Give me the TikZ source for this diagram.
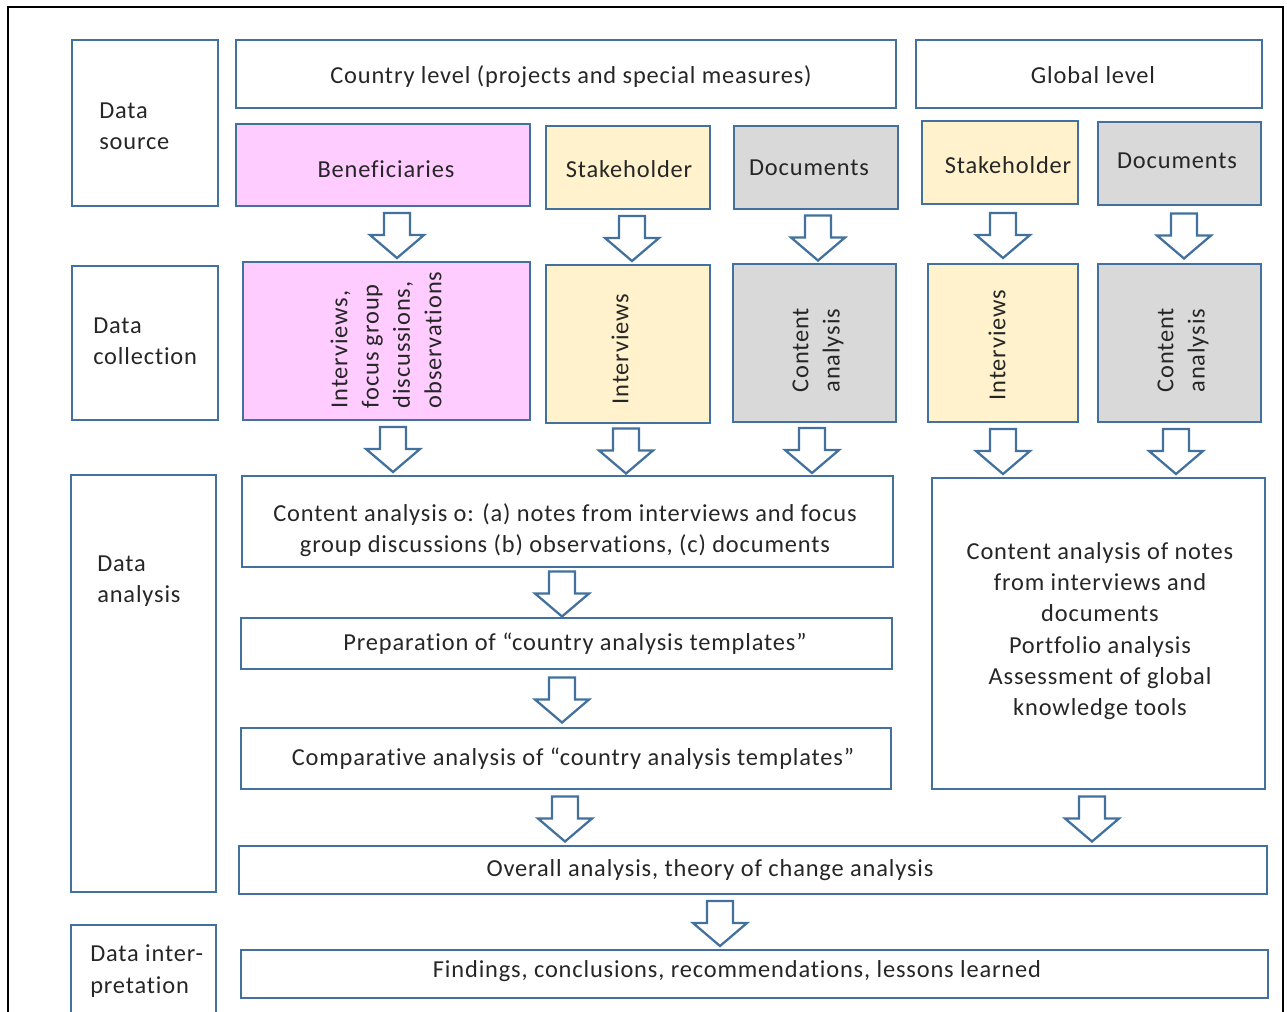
\documentclass[tikz,border=0pt]{standalone}
\usepackage{fontspec}
\setmainfont{Carlito}[LetterSpace=3.5, Ligatures=NoCommon]
\usetikzlibrary{calc}
\definecolor{bord}{HTML}{41719C}
\definecolor{pinkf}{HTML}{FFCCFF}
\definecolor{yelf}{HTML}{FFF2CC}
\definecolor{grayf}{HTML}{D9D9D9}
\definecolor{txtc}{HTML}{262626}
\tikzset{
  box/.style={draw=bord, line width=1.7pt, fill=white, inner sep=0pt, outer sep=0pt},
  pinkbox/.style={box, fill=pinkf},
  yelbox/.style={box, fill=yelf},
  graybox/.style={box, fill=grayf},
  txt/.style={text=txtc, inner sep=0pt, font=\fontsize{18.3}{23.5}\selectfont},
  barr/.style={draw=bord, line width=1.7pt, fill=white, line join=miter},
}
\newcommand\bx[6]{%
  \node[#6, minimum width={(#4-#2)*0.75pt}, minimum height={(#5-#3)*0.75pt}] (#1) at ({(#2+#4)/2},{(#3+#5)/2}) {};}
\newcommand\barrow[3]{%
  \coordinate (cx) at (#3,0);
  \path ($(cx |- #1.south)!0.5!(cx |- #2.north)$) coordinate (m);
  \draw[barr] ([shift={(-13,-21)}]m) -- ([shift={(13,-21)}]m) -- ([shift={(13,1)}]m) -- ([shift={(27,1)}]m) -- ([shift={(0,24)}]m) -- ([shift={(-27,1)}]m) -- ([shift={(-13,1)}]m) -- cycle;}
\begin{document}
\begin{tikzpicture}[x=0.75pt,y=-0.75pt]
\useasboundingbox (0,0) rectangle (1287,1012);
\fill[white] (0,0) rectangle (1287,1012);
\draw[black, line width=2.2pt] (8,1030) -- (8,7) -- (1283,7) -- (1283,1030);
% boxes
\bx{src}{72}{40}{218}{206}{box}
\bx{cty}{236}{40}{896}{108}{box}
\bx{glb}{916}{40}{1262}{108}{box}
\bx{ben}{236}{124}{530}{206}{pinkbox}
\bx{sh1}{546}{126}{710}{209}{yelbox}
\bx{doc1}{734}{126}{898}{209}{graybox}
\bx{sh2}{922}{121}{1078}{204}{yelbox}
\bx{doc2}{1098}{122}{1261}{205}{graybox}
\bx{col}{72}{266}{218}{420}{box}
\bx{ifg}{243}{262}{530}{420}{pinkbox}
\bx{int1}{546}{265}{710}{423}{yelbox}
\bx{ca1}{733}{264}{896}{422}{graybox}
\bx{int2}{928}{264}{1078}{422}{yelbox}
\bx{ca2}{1098}{264}{1261}{422}{graybox}
\bx{ana}{71}{475}{216}{892}{box}
\bx{cao}{242}{476}{893}{567}{box}
\bx{prep}{241}{618}{892}{669}{box}
\bx{comp}{241}{728}{891}{789}{box}
\bx{gca}{932}{478}{1265}{789}{box}
\bx{ovr}{239}{846}{1267}{894}{box}
\bx{intp}{71}{925}{216}{1030}{box}
\bx{fnd}{241}{950}{1268}{998}{box}
% arrows
\barrow{ben}{ifg}{397}
\barrow{sh1}{int1}{632}
\barrow{doc1}{ca1}{818}
\barrow{sh2}{int2}{1003}
\barrow{doc2}{ca2}{1184}
\barrow{ifg}{cao}{393}
\barrow{int1}{cao}{626}
\barrow{ca1}{cao}{812}
\barrow{int2}{gca}{1003}
\barrow{ca2}{gca}{1176}
\barrow{cao}{prep}{562}
\barrow{prep}{comp}{562}
\barrow{comp}{ovr}{565}
\barrow{gca}{ovr}{1092}
\barrow{ovr}{fnd}{720}
% texts
\node[txt, anchor=west, align=left] (tsrc) at (99,126) {Data\\source};
\node[txt, anchor=west, align=left] (tcol) at (93,341) {Data\\collection};
\node[txt, anchor=west, align=left] (tana) at (97,581) {Data\\analysis};
\node[txt, anchor=west, align=left] (tintp) at (90,971) {Data inter-\\pretation};
\node[txt] (tcty) at (571,77) {Country level (projects and special measures)};
\node[txt] (tglb) at (1093,75) {Global level};
\node[txt] (tben) at (386,169) {Beneficiaries};
\node[txt] (tsh1) at (629,169) {Stakeholder};
\node[txt] (tdoc1) at (809,168) {Documents};
\node[txt] (tsh2) at (1008,165) {Stakeholder};
\node[txt] (tdoc2) at (1177,161) {Documents};
\node[txt, rotate=90, align=left] (tifg) at (386,340) {Interviews,\\focus group\\discussions,\\observations};
\node[txt, rotate=90] (tint1) at (620,349) {Interviews};
\node[txt, rotate=90, align=left] (tca1) at (818,350) {Content\\analysis};
\node[txt, rotate=90] (tint2) at (997,345) {Interviews};
\node[txt, rotate=90, align=left] (tca2) at (1183,350) {Content\\analysis};
\node[txt, align=center] (tcao) at (565,530) {Content analysis o: (a) notes from interviews and focus\\group discussions (b) observations, (c) documents};
\node[txt] (tprep) at (575,644) {Preparation of “country analysis templates”};
\node[txt] (tcomp) at (573,759) {Comparative analysis of “country analysis templates”};
\node[txt, align=center] (tgca) at (1100,631) {Content analysis of notes\\from interviews and\\documents\\Portfolio analysis\\Assessment of global\\knowledge tools};
\node[txt] (tovr) at (710,870) {Overall analysis, theory of change analysis};
\node[txt] (tfnd) at (737,971) {Findings, conclusions, recommendations, lessons learned};
\end{tikzpicture}
\end{document}
